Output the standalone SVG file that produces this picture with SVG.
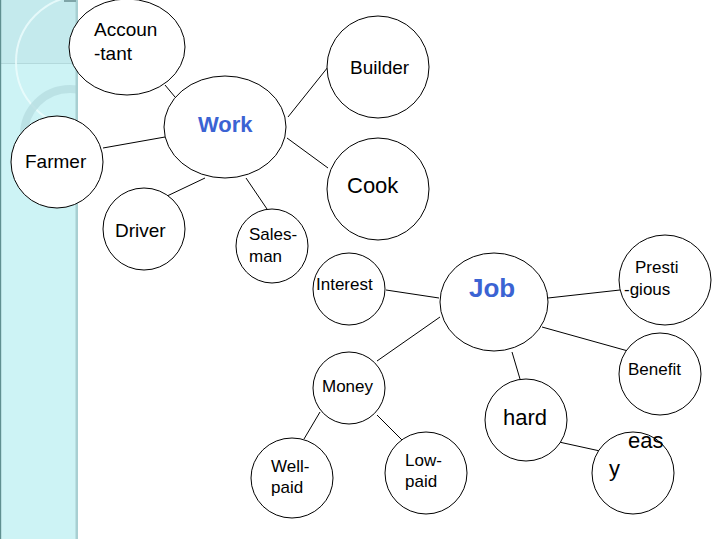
<svg xmlns="http://www.w3.org/2000/svg" width="720" height="540" viewBox="0 0 720 540">
<style>
.n{fill:#fff;stroke:#000;stroke-width:1}
.t{font-family:"Liberation Sans",Arial,sans-serif;fill:#000}
.s17{font-size:17px}
.s19{font-size:19px}
.s22{font-size:22px}
.hub{font-family:"Liberation Sans",Arial,sans-serif;font-weight:bold;fill:#3b63d3}
#conn line{stroke:#000;stroke-width:1}
</style>
<defs>
<clipPath id="strip"><rect x="0" y="0" width="78" height="539"/></clipPath>
</defs>
<g id="background">
<rect x="0" y="0" width="78" height="539" fill="#cdf3f5"/>
<rect x="0" y="0" width="78" height="63" fill="#c4eaed"/>
<line x1="0" y1="63.5" x2="78" y2="63.5" stroke="#b3d9dc" stroke-width="1"/>
<g clip-path="url(#strip)">
<circle cx="82" cy="62" r="66" fill="none" stroke="#eefcfd" stroke-width="2" opacity="0.8"/>
<circle cx="70" cy="135" r="46" fill="none" stroke="#b6dde1" stroke-width="8" opacity="0.8"/>
</g>
<rect x="75.5" y="0" width="2.5" height="539" fill="#a8cfd2"/>
<rect x="0" y="0" width="1.2" height="539" fill="#5f8f90"/>
<rect x="64" y="0" width="12" height="2" fill="#7fa5a8"/>
</g>
<g id="conn">
<line x1="165" y1="85" x2="175" y2="97"/>
<line x1="103" y1="148" x2="165" y2="137"/>
<line x1="288" y1="117" x2="328" y2="67"/>
<line x1="287" y1="138" x2="328" y2="168"/>
<line x1="205" y1="178" x2="165" y2="197"/>
<line x1="246" y1="178" x2="267" y2="209"/>
<line x1="386" y1="290" x2="439" y2="298"/>
<line x1="548" y1="298" x2="620" y2="290"/>
<line x1="440" y1="317" x2="377" y2="361"/>
<line x1="542" y1="327" x2="628" y2="351"/>
<line x1="512" y1="352" x2="520" y2="379"/>
<line x1="320" y1="412" x2="304" y2="439"/>
<line x1="377" y1="415" x2="403" y2="441"/>
<line x1="559" y1="442" x2="600" y2="451"/>
</g>
<g id="accountant">
<ellipse class="n" cx="127" cy="47" rx="58" ry="48"/>
<text class="t s19" x="94" y="36">Accoun</text>
<text class="t s19" x="94" y="60">-tant</text>
</g>
<g id="builder">
<ellipse class="n" cx="378" cy="67" rx="51" ry="51"/>
<text class="t s19" x="350" y="74">Builder</text>
</g>
<g id="work">
<ellipse class="n" cx="225" cy="127" rx="61" ry="51"/>
<text class="hub" font-size="22" x="198" y="132">Work</text>
</g>
<g id="farmer">
<ellipse class="n" cx="57" cy="162" rx="46" ry="46"/>
<text class="t s19" x="25" y="168">Farmer</text>
</g>
<g id="cook">
<ellipse class="n" cx="378" cy="189" rx="51" ry="51"/>
<text class="t s22" x="347" y="193">Cook</text>
</g>
<g id="driver">
<ellipse class="n" cx="144" cy="229" rx="41" ry="41"/>
<text class="t s19" x="115" y="237">Driver</text>
</g>
<g id="salesman">
<ellipse class="n" cx="272" cy="246" rx="36" ry="37"/>
<text class="t s17" x="249" y="240">Sales-</text>
<text class="t s17" x="249" y="262">man</text>
</g>
<g id="interest">
<ellipse class="n" cx="349" cy="289" rx="36" ry="36"/>
<text class="t s17" x="316" y="290">Interest</text>
</g>
<g id="job">
<ellipse class="n" cx="494" cy="302" rx="54" ry="49"/>
<text class="hub" font-size="26" x="469" y="297">Job</text>
</g>
<g id="prestigious">
<ellipse class="n" cx="665" cy="280" rx="46" ry="45"/>
<text class="t s17" x="635" y="273">Presti</text>
<text class="t s17" x="624" y="295">-gious</text>
</g>
<g id="benefit">
<ellipse class="n" cx="660" cy="374" rx="41" ry="41"/>
<text class="t s17" x="628" y="375">Benefit</text>
</g>
<g id="money">
<ellipse class="n" cx="349" cy="388" rx="36" ry="36"/>
<text class="t s17" x="322" y="392">Money</text>
</g>
<g id="hard">
<ellipse class="n" cx="526" cy="420" rx="41" ry="41"/>
<text class="t s22" x="503" y="425">hard</text>
</g>
<g id="easy">
<ellipse class="n" cx="633" cy="473" rx="41" ry="41"/>
<text class="t s22" x="628" y="448">eas</text>
<text class="t s22" x="609" y="476">y</text>
</g>
<g id="wellpaid">
<ellipse class="n" cx="292" cy="478" rx="41" ry="40"/>
<text class="t s17" x="271" y="472">Well-</text>
<text class="t s17" x="271" y="493">paid</text>
</g>
<g id="lowpaid">
<ellipse class="n" cx="426" cy="473" rx="41" ry="41"/>
<text class="t s17" x="405" y="466">Low-</text>
<text class="t s17" x="405" y="487">paid</text>
</g>
</svg>
